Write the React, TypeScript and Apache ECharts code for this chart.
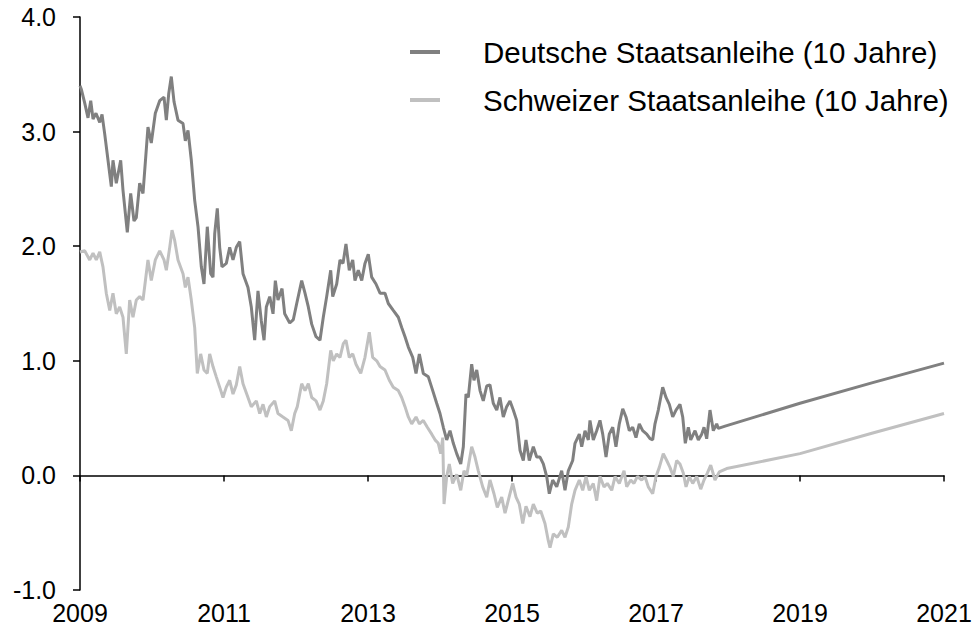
import React, { useEffect, useRef } from "react";
import * as echarts from "echarts";

const START_YEAR = 2009;
const END_YEAR = 2021;
const yTicks = [-1, 0, 1, 2, 3, 4];

// Deutsche Staatsanleihe (10 Jahre): decimal years and yields in %
const germanYears = [
  2009.0, 2009.018, 2009.065, 2009.111, 2009.149, 2009.181, 2009.222, 2009.274, 2009.306, 2009.343,
  2009.389, 2009.435, 2009.458, 2009.504, 2009.565, 2009.597, 2009.657, 2009.704, 2009.75, 2009.782,
  2009.829, 2009.875, 2009.944, 2009.99, 2010.046, 2010.107, 2010.167, 2010.199, 2010.232, 2010.268,
  2010.306, 2010.361, 2010.431, 2010.463, 2010.5, 2010.546, 2010.593, 2010.639, 2010.685, 2010.722,
  2010.768, 2010.815, 2010.847, 2010.871, 2010.907, 2010.94, 2010.972, 2011.032, 2011.079, 2011.125,
  2011.171, 2011.218, 2011.264, 2011.333, 2011.379, 2011.426, 2011.472, 2011.518, 2011.556, 2011.588,
  2011.635, 2011.681, 2011.713, 2011.75, 2011.806, 2011.843, 2011.913, 2011.963, 2012.01, 2012.079,
  2012.125, 2012.171, 2012.218, 2012.278, 2012.333, 2012.379, 2012.426, 2012.482, 2012.51, 2012.565,
  2012.611, 2012.653, 2012.694, 2012.74, 2012.788, 2012.819, 2012.865, 2012.913, 2012.958, 2013.004,
  2013.051, 2013.111, 2013.167, 2013.236, 2013.282, 2013.351, 2013.421, 2013.468, 2013.514, 2013.56,
  2013.621, 2013.667, 2013.713, 2013.768, 2013.838, 2013.899, 2013.954, 2014.0, 2014.046, 2014.093,
  2014.139, 2014.185, 2014.232, 2014.288, 2014.324, 2014.361, 2014.393, 2014.44, 2014.472, 2014.51,
  2014.556, 2014.601, 2014.649, 2014.694, 2014.74, 2014.788, 2014.833, 2014.879, 2014.926, 2014.972,
  2015.018, 2015.065, 2015.111, 2015.157, 2015.194, 2015.24, 2015.296, 2015.343, 2015.389, 2015.435,
  2015.482, 2015.518, 2015.565, 2015.621, 2015.69, 2015.736, 2015.782, 2015.843, 2015.875, 2015.935,
  2015.968, 2016.014, 2016.06, 2016.083, 2016.129, 2016.176, 2016.222, 2016.26, 2016.306, 2016.351,
  2016.399, 2016.444, 2016.49, 2016.538, 2016.583, 2016.629, 2016.676, 2016.722, 2016.768, 2016.815,
  2016.871, 2016.917, 2016.954, 2016.986, 2017.032, 2017.093, 2017.139, 2017.185, 2017.232, 2017.278,
  2017.333, 2017.371, 2017.407, 2017.449, 2017.482, 2017.542, 2017.588, 2017.635, 2017.667, 2017.704,
  2017.75, 2017.796, 2017.843, 2017.865, 2017.96, 2019.0, 2020.01, 2021.0,
];
const germanYield = [
  3.4, 3.37, 3.25, 3.12, 3.27, 3.11, 3.16, 3.08, 3.15, 2.98,
  2.75, 2.52, 2.75, 2.55, 2.75, 2.49, 2.12, 2.46, 2.22, 2.25,
  2.55, 2.46, 3.04, 2.9, 3.16, 3.27, 3.3, 3.1, 3.33, 3.48,
  3.26, 3.1, 3.07, 2.92, 3.01, 2.75, 2.4, 2.17, 1.82, 1.67,
  2.17, 1.76, 1.73, 2.11, 2.33, 1.99, 1.82, 1.85, 1.99, 1.88,
  1.99, 2.04, 1.76, 1.64, 1.47, 1.18, 1.61, 1.35, 1.18, 1.47,
  1.56, 1.41, 1.7, 1.53, 1.63, 1.41, 1.33, 1.36, 1.5, 1.7,
  1.59, 1.47, 1.32, 1.21, 1.18, 1.38, 1.56, 1.79, 1.56, 1.67,
  1.88, 1.85, 2.02, 1.79, 1.88, 1.7, 1.79, 1.7, 1.85, 1.93,
  1.73, 1.67, 1.59, 1.59, 1.5, 1.44, 1.38, 1.29, 1.21, 1.12,
  1.03, 0.89, 1.06, 0.89, 0.86, 0.74, 0.63, 0.54, 0.42, 0.31,
  0.39, 0.28, 0.19, 0.1, 0.25, 0.71, 0.68, 0.97, 0.83, 0.92,
  0.74, 0.65, 0.78, 0.79, 0.63, 0.57, 0.68, 0.51, 0.6, 0.65,
  0.57, 0.48, 0.22, 0.13, 0.31, 0.13, 0.25, 0.16, 0.16, 0.1,
  -0.01, -0.16, -0.04, -0.1, 0.04, -0.13, 0.04, 0.13, 0.28, 0.36,
  0.25, 0.39, 0.31, 0.48, 0.31, 0.39, 0.48, 0.36, 0.16, 0.36,
  0.42, 0.25, 0.45, 0.58, 0.51, 0.39, 0.42, 0.33, 0.45, 0.39,
  0.36, 0.32, 0.31, 0.45, 0.57, 0.77, 0.68, 0.62, 0.51, 0.57,
  0.62, 0.51, 0.28, 0.42, 0.31, 0.39, 0.31, 0.36, 0.42, 0.32,
  0.57, 0.39, 0.45, 0.41, 0.43, 0.63, 0.81, 0.98,
];

// Schweizer Staatsanleihe (10 Jahre): decimal years and yields in %
const swissYears = [
  2009.0, 2009.065, 2009.135, 2009.181, 2009.226, 2009.274, 2009.319, 2009.365, 2009.413, 2009.458,
  2009.504, 2009.551, 2009.597, 2009.643, 2009.69, 2009.736, 2009.782, 2009.829, 2009.875, 2009.944,
  2009.99, 2010.046, 2010.107, 2010.167, 2010.199, 2010.246, 2010.278, 2010.315, 2010.361, 2010.431,
  2010.463, 2010.5, 2010.546, 2010.593, 2010.629, 2010.676, 2010.722, 2010.768, 2010.801, 2010.847,
  2010.893, 2010.94, 2010.986, 2011.032, 2011.079, 2011.125, 2011.171, 2011.218, 2011.264, 2011.333,
  2011.379, 2011.449, 2011.496, 2011.542, 2011.588, 2011.635, 2011.704, 2011.75, 2011.819, 2011.889,
  2011.935, 2011.982, 2012.018, 2012.079, 2012.125, 2012.171, 2012.218, 2012.278, 2012.333, 2012.379,
  2012.426, 2012.482, 2012.518, 2012.565, 2012.611, 2012.657, 2012.694, 2012.74, 2012.788, 2012.833,
  2012.899, 2012.958, 2013.018, 2013.065, 2013.121, 2013.167, 2013.236, 2013.296, 2013.351, 2013.421,
  2013.468, 2013.514, 2013.56, 2013.607, 2013.667, 2013.713, 2013.768, 2013.824, 2013.885, 2013.931,
  2013.976, 2014.01, 2014.038, 2014.056, 2014.093, 2014.129, 2014.176, 2014.232, 2014.288, 2014.333,
  2014.371, 2014.44, 2014.486, 2014.532, 2014.593, 2014.649, 2014.694, 2014.75, 2014.796, 2014.857,
  2014.903, 2014.972, 2015.01, 2015.056, 2015.101, 2015.149, 2015.194, 2015.25, 2015.296, 2015.351,
  2015.399, 2015.458, 2015.504, 2015.528, 2015.574, 2015.629, 2015.69, 2015.736, 2015.782, 2015.829,
  2015.875, 2015.935, 2015.982, 2016.028, 2016.074, 2016.129, 2016.176, 2016.222, 2016.278, 2016.324,
  2016.385, 2016.431, 2016.49, 2016.556, 2016.593, 2016.649, 2016.694, 2016.74, 2016.801, 2016.847,
  2016.893, 2016.954, 2017.0, 2017.046, 2017.101, 2017.149, 2017.194, 2017.24, 2017.287, 2017.333,
  2017.379, 2017.417, 2017.463, 2017.51, 2017.565, 2017.621, 2017.667, 2017.713, 2017.76, 2017.819,
  2017.879, 2017.982, 2019.0, 2020.01, 2021.0,
];
const swissYield = [
  1.95, 1.96, 1.88, 1.94, 1.88, 1.95, 1.82, 1.59, 1.44, 1.59,
  1.41, 1.47, 1.38, 1.06, 1.53, 1.38, 1.53, 1.56, 1.53, 1.88,
  1.7, 1.88, 1.96, 1.88, 1.79, 1.99, 2.14, 2.05, 1.88, 1.76,
  1.64, 1.73, 1.53, 1.29, 0.89, 1.06, 0.92, 0.89, 1.06, 0.95,
  0.86, 0.77, 0.68, 0.77, 0.83, 0.71, 0.79, 0.95, 0.8, 0.68,
  0.6, 0.65, 0.54, 0.62, 0.51, 0.6, 0.65, 0.54, 0.51, 0.48,
  0.39, 0.54, 0.6, 0.8, 0.74, 0.8, 0.68, 0.65, 0.57, 0.65,
  0.8, 1.09, 1.0, 1.06, 1.03, 1.15, 1.18, 1.03, 1.06, 0.97,
  0.89, 1.03, 1.25, 1.03, 1.0, 0.95, 0.92, 0.83, 0.77, 0.74,
  0.68, 0.6, 0.51, 0.45, 0.51, 0.45, 0.48, 0.42, 0.36, 0.31,
  0.28, 0.19, 0.33, -0.25, -0.01, 0.1, -0.07, 0.01, -0.13, 0.04,
  0.0, 0.25, 0.16, 0.04, -0.1, -0.19, -0.04, -0.16, -0.28, -0.19,
  -0.33, -0.16, -0.07, -0.19, -0.25, -0.42, -0.27, -0.36, -0.25, -0.33,
  -0.31, -0.42, -0.57, -0.63, -0.51, -0.54, -0.48, -0.54, -0.45, -0.25,
  -0.13, -0.04, -0.13, -0.01, -0.13, -0.07, -0.22, -0.01, -0.1, -0.07,
  -0.13, -0.01, -0.07, 0.04, -0.1, -0.04, -0.07, -0.01, -0.04, -0.01,
  -0.1, -0.16, -0.01, 0.07, 0.19, 0.13, 0.07, -0.01, 0.13, 0.1,
  0.02, -0.1, -0.01, -0.07, -0.01, -0.12, -0.04, 0.02, 0.09, -0.04,
  0.03, 0.06, 0.19, 0.37, 0.54,
];

const germanName = "Deutsche Staatsanleihe (10 Jahre)";
const swissName = "Schweizer Staatsanleihe (10 Jahre)";
const germanColor = "#808080";
const swissColor = "#c0c0c0";

export default function App() {
  const ref = useRef<HTMLDivElement>(null);
  useEffect(() => {
    if (!ref.current) return;
    const chart = echarts.init(ref.current, null, { renderer: "svg" });
    const toPairs = (xs: number[], ys: number[]) => xs.map((x, i) => [x - START_YEAR, ys[i]]);
    const font = "'Liberation Sans', Arial, sans-serif";
    chart.setOption({
      animation: false,
      backgroundColor: "#ffffff",
      textStyle: { fontFamily: font },
      grid: { left: 80, right: 29, top: 17, bottom: 42, containLabel: false, outerBoundsMode: "none" },
      legend: {
        data: [germanName, swissName],
        orient: "vertical",
        left: 405,
        top: 32,
        icon: "rect",
        itemWidth: 30,
        itemHeight: 4,
        itemGap: 18,
        textStyle: { fontSize: 29.5, lineHeight: 30, color: "#000", fontFamily: font, padding: [0, 0, 0, 38] },
      },
      xAxis: {
        type: "value",
        min: 0,
        max: END_YEAR - START_YEAR,
        interval: 2,
        axisLine: { onZero: true, lineStyle: { color: "#000", width: 1.5 } },
        axisTick: { show: true, length: 6, lineStyle: { color: "#000", width: 1.5 } },
        axisLabel: {
          margin: 10,
          fontSize: 25,
          color: "#000",
          fontFamily: font,
          formatter: (v: number) => String(v + START_YEAR),
        },
        splitLine: { show: false },
      },
      yAxis: {
        type: "value",
        min: yTicks[0],
        max: yTicks[yTicks.length - 1],
        interval: 1,
        axisLine: { show: true, lineStyle: { color: "#000", width: 1.5 } },
        axisTick: { show: true, length: 7, lineStyle: { color: "#000", width: 1.5 } },
        axisLabel: {
          margin: 24,
          fontSize: 25,
          color: "#000",
          fontFamily: font,
          formatter: (v: number) => v.toFixed(1),
        },
        splitLine: { show: false },
      },
      series: [
        {
          name: swissName,
          type: "line",
          data: toPairs(swissYears, swissYield),
          symbol: "none",
          lineStyle: { color: swissColor, width: 3 },
          itemStyle: { color: swissColor },
          z: 2,
        },
        {
          name: germanName,
          type: "line",
          data: toPairs(germanYears, germanYield),
          symbol: "none",
          lineStyle: { color: germanColor, width: 3 },
          itemStyle: { color: germanColor },
          z: 3,
        },
      ],
    });
    return () => chart.dispose();
  }, []);
  return <div ref={ref} style={{ position: "absolute", left: 0, top: 0, width: 973, height: 632 }} />;
}
